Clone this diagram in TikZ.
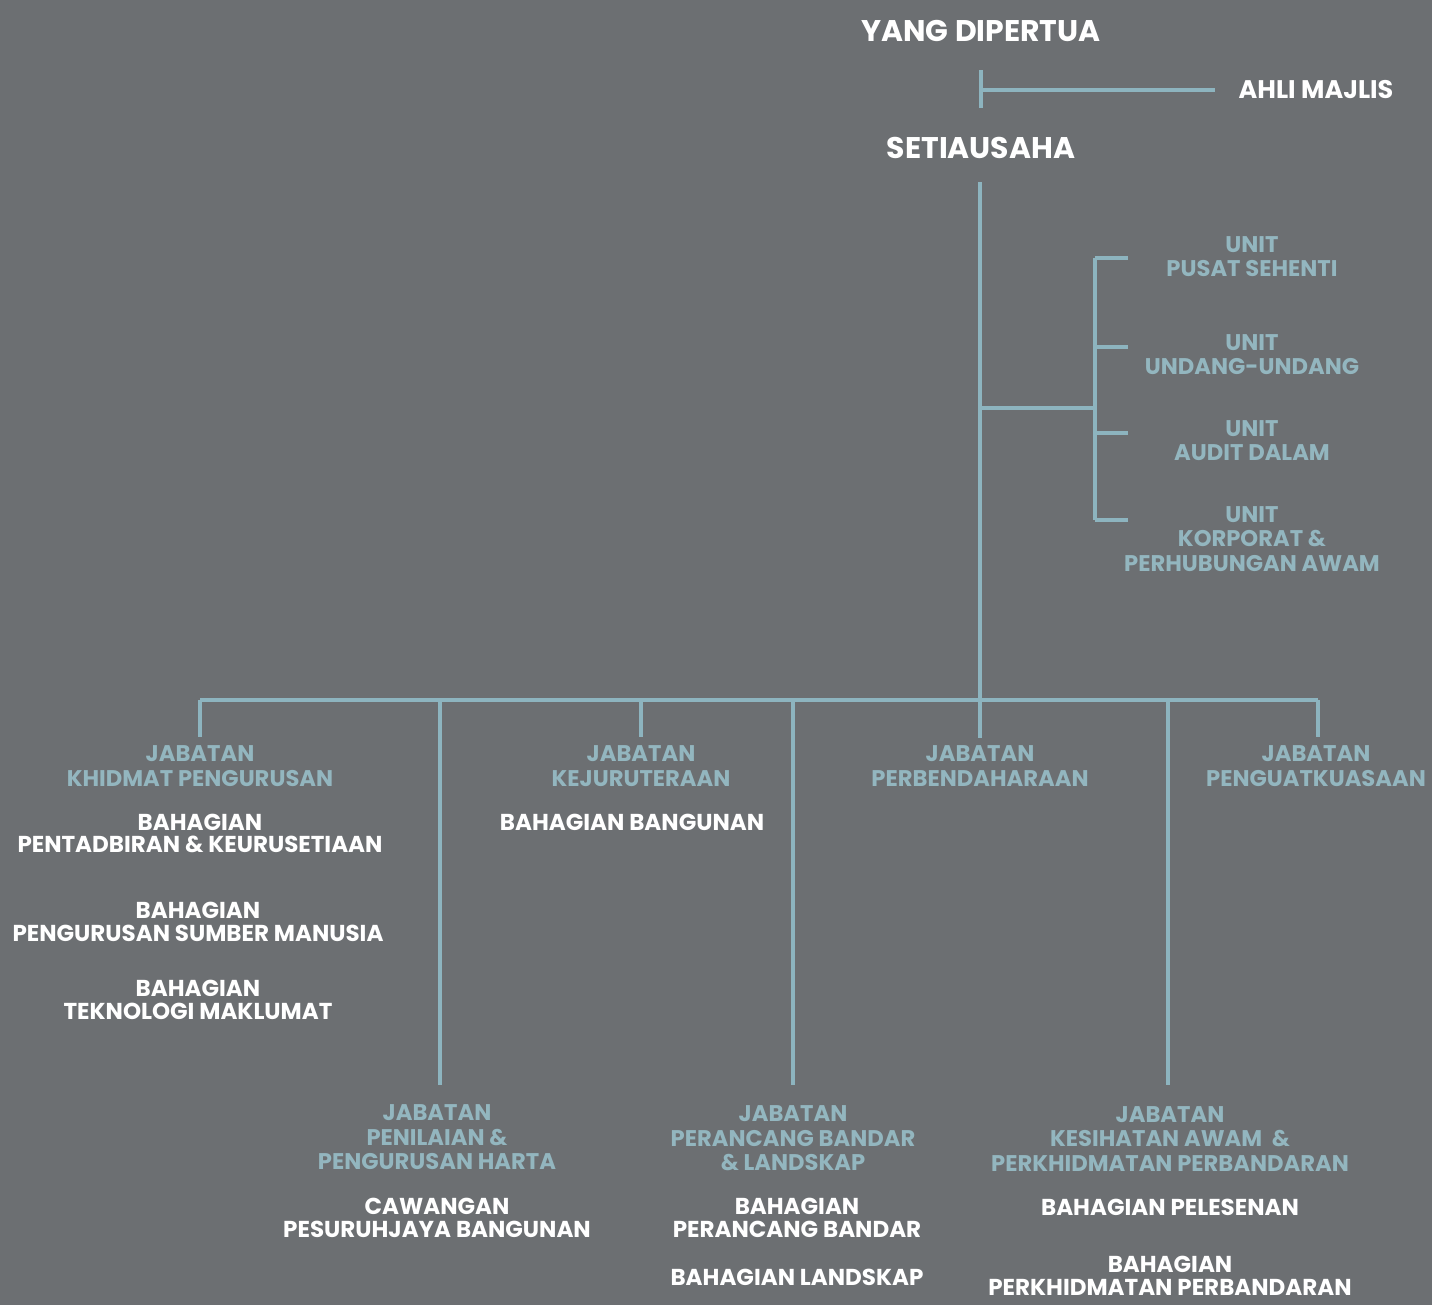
\documentclass[tikz,border=0pt]{standalone}
\usepackage{fontspec}
\setmainfont{Poppins}
\definecolor{bgGrey}{HTML}{6C6F72}
\definecolor{lineTeal}{HTML}{8DB4BF}
\definecolor{textTeal}{HTML}{93B6BF}
\tikzset{
  link/.style={lineTeal, line width=2.8pt},
  head/.style={text=white, font=\bfseries\fontsize{17}{19}\selectfont, align=center, inner sep=0pt},
  dept/.style={text=textTeal, font=\bfseries\fontsize{12.9}{13.9}\selectfont, align=center, inner sep=0pt},
  sect/.style={text=white, font=\bfseries\fontsize{13.1}{13}\selectfont, align=center, inner sep=0pt},
}
\begin{document}
\begin{tikzpicture}[x=0.02cm, y=-0.02cm]
        %background
        \fill[bgGrey] (0,0) rectangle (1432,1305);
        \useasboundingbox (0,0) rectangle (1432,1305);

        %top
        \node[head] (ydp) at (981,31) {YANG DIPERTUA};
        \node[head] (setia) at (981,148) {SETIAUSAHA};
        \node[head, font=\bfseries\fontsize{14.5}{16}\selectfont] (ahli) at (1316,90) {AHLI MAJLIS};
        \coordinate (ahliJ) at (981,90);
        \coordinate (ahliEnd) at (1215,90);
        \draw[link] (981,70) -- (981,108);
        \draw[link] (ahliJ) -- (ahliEnd);

        %units
        \node[dept] (uSehenti) at (1252,256.5) {UNIT\\PUSAT SEHENTI};
        \node[dept] (uUndang) at (1252,354.5) {UNIT\\UNDANG-UNDANG};
        \node[dept] (uAudit) at (1252,440.5) {UNIT\\AUDIT DALAM};
        \node[dept] (uKorporat) at (1252,539) {UNIT\\KORPORAT \&\\PERHUBUNGAN AWAM};
        \coordinate (uJ) at (980,408);
        \coordinate (uBar) at (1095,408);
        \draw[link] (uJ) -- (uBar);
        \draw[link] (1095,258) -- (1095,520);
        \foreach \y in {258,347,433,520}
          \draw[link] (1095,\y) -- (1128,\y);

        %main line and bar
        \coordinate (mainTop) at (980,182);
        \draw[link] (mainTop) -- (980,738);
        \draw[link] (200,700) -- (1318,700);

        %upper departments
        \node[dept] (jKhidmat) at (200,766) {JABATAN\\KHIDMAT PENGURUSAN};
        \node[dept] (jKejur) at (641,766) {JABATAN\\KEJURUTERAAN};
        \node[dept] (jBendahari) at (980,766) {JABATAN\\PERBENDAHARAAN};
        \node[dept] (jKuasa) at (1316,766) {JABATAN\\PENGUATKUASAAN};
        \foreach \x in {200,641,1318}
          \draw[link] (\x,700) -- (\x,737);

        %lower departments
        \node[dept] (jHarta) at (437,1137.5) {JABATAN\\PENILAIAN \&\\PENGURUSAN HARTA};
        \node[dept] (jBandar) at (793,1138.5) {JABATAN\\PERANCANG BANDAR\\\& LANDSKAP};
        \node[dept] (jKesihatan) at (1170,1139) {JABATAN\\KESIHATAN AWAM \ \&\\PERKHIDMATAN PERBANDARAN};
        \foreach \x in {440,793,1168}
          \draw[link] (\x,700) -- (\x,1085);

        %sections
        \node[sect] (bTadbir) at (200,833.5) {BAHAGIAN\\PENTADBIRAN \& KEURUSETIAAN};
        \node[sect] (bSumber) at (198,921.5) {BAHAGIAN\\PENGURUSAN SUMBER MANUSIA};
        \node[sect] (bTeknologi) at (198,1000) {BAHAGIAN\\TEKNOLOGI MAKLUMAT};
        \node[sect] (bBangunan) at (632,822) {BAHAGIAN BANGUNAN};
        \node[sect] (cPesuruhjaya) at (437,1218) {CAWANGAN\\PESURUHJAYA BANGUNAN};
        \node[sect] (bBandar) at (797,1218) {BAHAGIAN\\PERANCANG BANDAR};
        \node[sect] (bLandskap) at (797,1277) {BAHAGIAN LANDSKAP};
        \node[sect] (bLesen) at (1170,1207) {BAHAGIAN PELESENAN};
        \node[sect] (bPerkhidmatan) at (1170,1276) {BAHAGIAN\\PERKHIDMATAN PERBANDARAN};
    \end{tikzpicture}
\end{document}
